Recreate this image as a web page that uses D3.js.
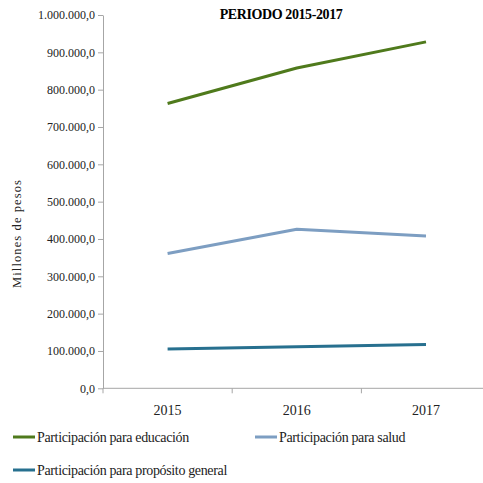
<!DOCTYPE html>
<html>
<head>
<meta charset="utf-8">
<script src="https://cdn.jsdelivr.net/npm/d3@7"></script>
<style>
  html, body { margin: 0; padding: 0; background: #fff; }
  svg { display: block; }
  svg text { font-family: "Times New Roman", Times, "Liberation Serif", serif; }
</style>
</head>
<body>
<svg id="chart" width="483" height="483"></svg>
<script>
// Years on the category axis
const years = ["2015", "2016", "2017"];
// Transfers in millions of pesos, by purpose
const educacion = [763000, 858000, 928000];
const salud = [361000, 426000, 408000];
const propositoGeneral = [105000, 111000, 117000];
// Value axis ticks
const yTicks = [0, 100000, 200000, 300000, 400000, 500000, 600000, 700000, 800000, 900000, 1000000];

const seriesNames = [
  "Participación para educación",
  "Participación para salud",
  "Participación para propósito general"
];
const seriesValues = [educacion, salud, propositoGeneral];
const seriesColors = ["#4f7a1c", "#7d9ec2", "#27708f"];

const svg = d3.select("#chart");
const font = "\"Times New Roman\", Times, \"Liberation Serif\", serif";

const plot = { left: 103, right: 490.6, top: 15, bottom: 388.3 };

const x = d3.scaleBand().domain(years).range([plot.left, plot.right]);
const y = d3.scaleLinear().domain([0, 1000000]).range([plot.bottom, plot.top]);

// es-CO style number format: 1.000.000,0
const fmt = d3.formatLocale({ decimal: ",", thousands: ".", grouping: [3], currency: ["$", ""] }).format(",.1f");

const axisColor = "#a6a6a6";

// Y axis
const yAxis = svg.append("g")
  .attr("transform", `translate(${plot.left},0)`)
  .call(d3.axisLeft(y).tickValues(yTicks).tickFormat(fmt).tickSize(5).tickSizeOuter(0))
  .attr("font-family", font)
  .attr("font-size", 12);
yAxis.select(".domain").attr("stroke", axisColor);
yAxis.selectAll(".tick line").attr("stroke", axisColor);
yAxis.selectAll(".tick text")
  .attr("x", -8)
  .attr("fill", "#222");

// X axis: ticks at category boundaries
const xAxis = svg.append("g")
  .attr("transform", `translate(0,${plot.bottom})`)
  .attr("font-family", font)
  .attr("font-size", 14);
xAxis.append("line")
  .attr("x1", plot.left).attr("x2", plot.right)
  .attr("stroke", axisColor);
const bounds = years.map(d => x(d)).concat([x(years[years.length - 1]) + x.bandwidth()]);
xAxis.selectAll("line.tick")
  .data(bounds)
  .join("line")
  .attr("class", "tick")
  .attr("x1", d => d).attr("x2", d => d)
  .attr("y1", 0).attr("y2", 5)
  .attr("stroke", axisColor);
xAxis.selectAll("text")
  .data(years)
  .join("text")
  .attr("x", d => x(d) + x.bandwidth() / 2)
  .attr("y", 27)
  .attr("text-anchor", "middle")
  .attr("fill", "#222")
  .text(d => d);

// Lines
const line = d3.line()
  .x((d, i) => x(years[i]) + x.bandwidth() / 2)
  .y(d => y(d));

seriesValues.forEach((vals, i) => {
  svg.append("path")
    .datum(vals)
    .attr("fill", "none")
    .attr("stroke", seriesColors[i])
    .attr("stroke-width", 3)
    .attr("stroke-linejoin", "round")
    .attr("d", line);
});

// Title
svg.append("text")
  .attr("x", 281)
  .attr("y", 19)
  .attr("text-anchor", "middle")
  .attr("fill", "#000")
  .attr("font-family", font)
  .attr("font-weight", "bold")
  .attr("font-size", 14)
  .attr("letter-spacing", "-0.4px")
  .text("PERIODO 2015-2017");

// Y axis title
svg.append("text")
  .attr("transform", "translate(21,234) rotate(-90)")
  .attr("text-anchor", "middle")
  .attr("fill", "#222")
  .attr("font-family", font)
  .attr("font-size", 12.5)
  .attr("textLength", 108)
  .attr("lengthAdjust", "spacing")
  .text("Millones  de pesos");

// Legend
const legendPos = [[13, 437], [255, 437], [13, 470]];
seriesNames.forEach((name, i) => {
  const [lx, ly] = legendPos[i];
  const g = svg.append("g").attr("transform", `translate(${lx},${ly})`);
  g.append("line")
    .attr("x1", 0).attr("x2", 22)
    .attr("y1", 0).attr("y2", 0)
    .attr("stroke", seriesColors[i])
    .attr("stroke-width", 3);
  g.append("text")
    .attr("x", 24)
    .attr("y", 5)
    .attr("fill", "#222")
    .attr("font-family", font)
    .attr("font-size", 14)
    .attr("letter-spacing", "-0.35px")
    .text(name);
});
</script>
</body>
</html>
